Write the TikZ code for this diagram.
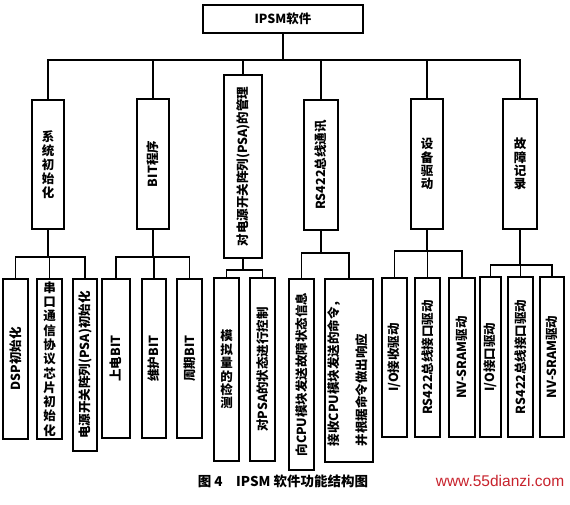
\documentclass[tikz,border=0pt]{standalone}
\usepackage{fontspec}
\setmainfont{Noto Sans CJK SC}
\newfontfamily\wmfont{Liberation Sans}
\usepackage{graphicx}
\definecolor{wmred}{RGB}{200,35,45}
\newcommand\bx[6]{%
  \node[box,minimum width={(#4-#2)*1pt},minimum height={(#5-#3)*1pt}] (#1) at ({(#2+#4)/2},{(#3+#5)/2}) {#6};}
\newcommand\rt[1]{\rotatebox{90}{#1}}
% stacked upright characters: box name, count, pitch, list
\newcommand\stack[4]{%
  \foreach[count=\i] \ch in {#4} {%
    \node[stkch] (#1-\i) at ([yshift={-(\i-(#2+1)/2)*#3}]#1.center) {\ch};}}
\begin{document}
\begin{tikzpicture}[x=1pt,y=-1pt,
  box/.style={draw,line width=1.7pt,inner sep=0pt,font=\bfseries\fontsize{12.5}{14}\selectfont,align=center},
  stkch/.style={inner sep=0pt,font=\bfseries\fontsize{12.5}{14}\selectfont},
  conn/.style={line width=1.4pt}]
\fill[white] (0,0) rectangle (570,504);
\useasboundingbox (0,0) rectangle (570,504);
% top
\bx{t}{203}{5}{363}{33}{IPSM软件}
% level 1
\bx{b1}{32}{100}{64}{229}{}
\stack{b1}{5}{14}{系,统,初,始,化}
\bx{b2}{137}{99}{169}{229}{\rt{BIT程序}}
\bx{b3}{224}{75}{262}{258}{\rt{对电源开关阵列(PSA)的管理}}
\bx{b4}{304}{100}{338}{230}{\rt{RS422总线通讯}}
\bx{b5}{411}{99}{443}{229}{}
\stack{b5}{4}{13.5}{设,备,驱,动}
\bx{b6}{503}{99}{537}{229}{}
\stack{b6}{4}{13.5}{故,障,记,录}
% level 2
\bx{c11}{3}{279}{28}{439}{\rt{DSP初始化}}
\bx{c12}{37}{279}{62}{439}{}
\stack{c12}{11}{14.3}{串,口,通,信,协,议,芯,片,初,始,化}
\bx{c13}{73}{279}{97}{451}{\rt{电源开关阵列(PSA)初始化}}
\bx{c21}{102}{279}{130}{438}{\rt{上电BIT}}
\bx{c22}{142}{279}{166}{438}{\rt{维护BIT}}
\bx{c23}{177}{279}{202}{438}{\rt{周期BIT}}
\bx{c31}{214}{278}{239}{461}{}
\stack{c31}{6}{13.5}{模,拟,量,的,检,测}
\bx{c32}{250}{278}{275}{461}{\rt{对PSA的状态进行控制}}
\bx{c41}{289}{279}{314}{470}{\rt{向CPU模块发送故障状态信息}}
\bx{c42}{325}{279}{373}{462}{\rt{\begin{tabular}{@{}l@{}}接收CPU模块发送的命令，\\[13pt]并根据命令做出响应\end{tabular}}}
\bx{c51}{382}{278}{407}{437}{\rt{I/O接收驱动}}
\bx{c52}{415}{278}{440}{437}{\rt{RS422总线接口驱动}}
\bx{c53}{449}{278}{475}{437}{\rt{NV-SRAM驱动}}
\bx{c61}{480}{277}{501}{437}{\rt{I/O接口驱动}}
\bx{c62}{508}{277}{533}{437}{\rt{RS422总线接口驱动}}
\bx{c63}{540}{277}{564}{437}{\rt{NV-SRAM驱动}}
% buses
\coordinate (bus) at (0,60);
\coordinate (g1) at (0,257);
\coordinate (g2) at (0,257);
\coordinate (g3) at (0,270);
\coordinate (g4) at (0,253);
\coordinate (g5) at (0,251);
\coordinate (g6) at (0,265);
\foreach \c in {b1,b2,b3,b4,b5,b6} \draw[conn] (t.south) |- (\c.north |- bus) -- (\c.north);
\foreach \c in {c11,c12,c13} \draw[conn] (b1.south) |- (\c.north |- g1) -- (\c.north);
\foreach \c in {c21,c22,c23} \draw[conn] (b2.south) |- (\c.north |- g2) -- (\c.north);
\foreach \c in {c31,c32} \draw[conn] (b3.south) |- (\c.north |- g3) -- (\c.north);
\foreach \c in {c41,c42} \draw[conn] (b4.south) |- (\c.north |- g4) -- (\c.north);
\foreach \c in {c51,c52,c53} \draw[conn] (b5.south) |- (\c.north |- g5) -- (\c.north);
\foreach \c in {c61,c62,c63} \draw[conn] (b6.south) |- (\c.north |- g6) -- (\c.north);
% caption
\node[font=\bfseries\fontsize{13.5}{15}\selectfont] (cap) at (283,481) {图 4\quad IPSM 软件功能结构图};
\node[text=wmred,font=\wmfont\fontsize{15.5}{17}\selectfont] (wm) at (500,481) {www.55dianzi.com};
\end{tikzpicture}
\end{document}
